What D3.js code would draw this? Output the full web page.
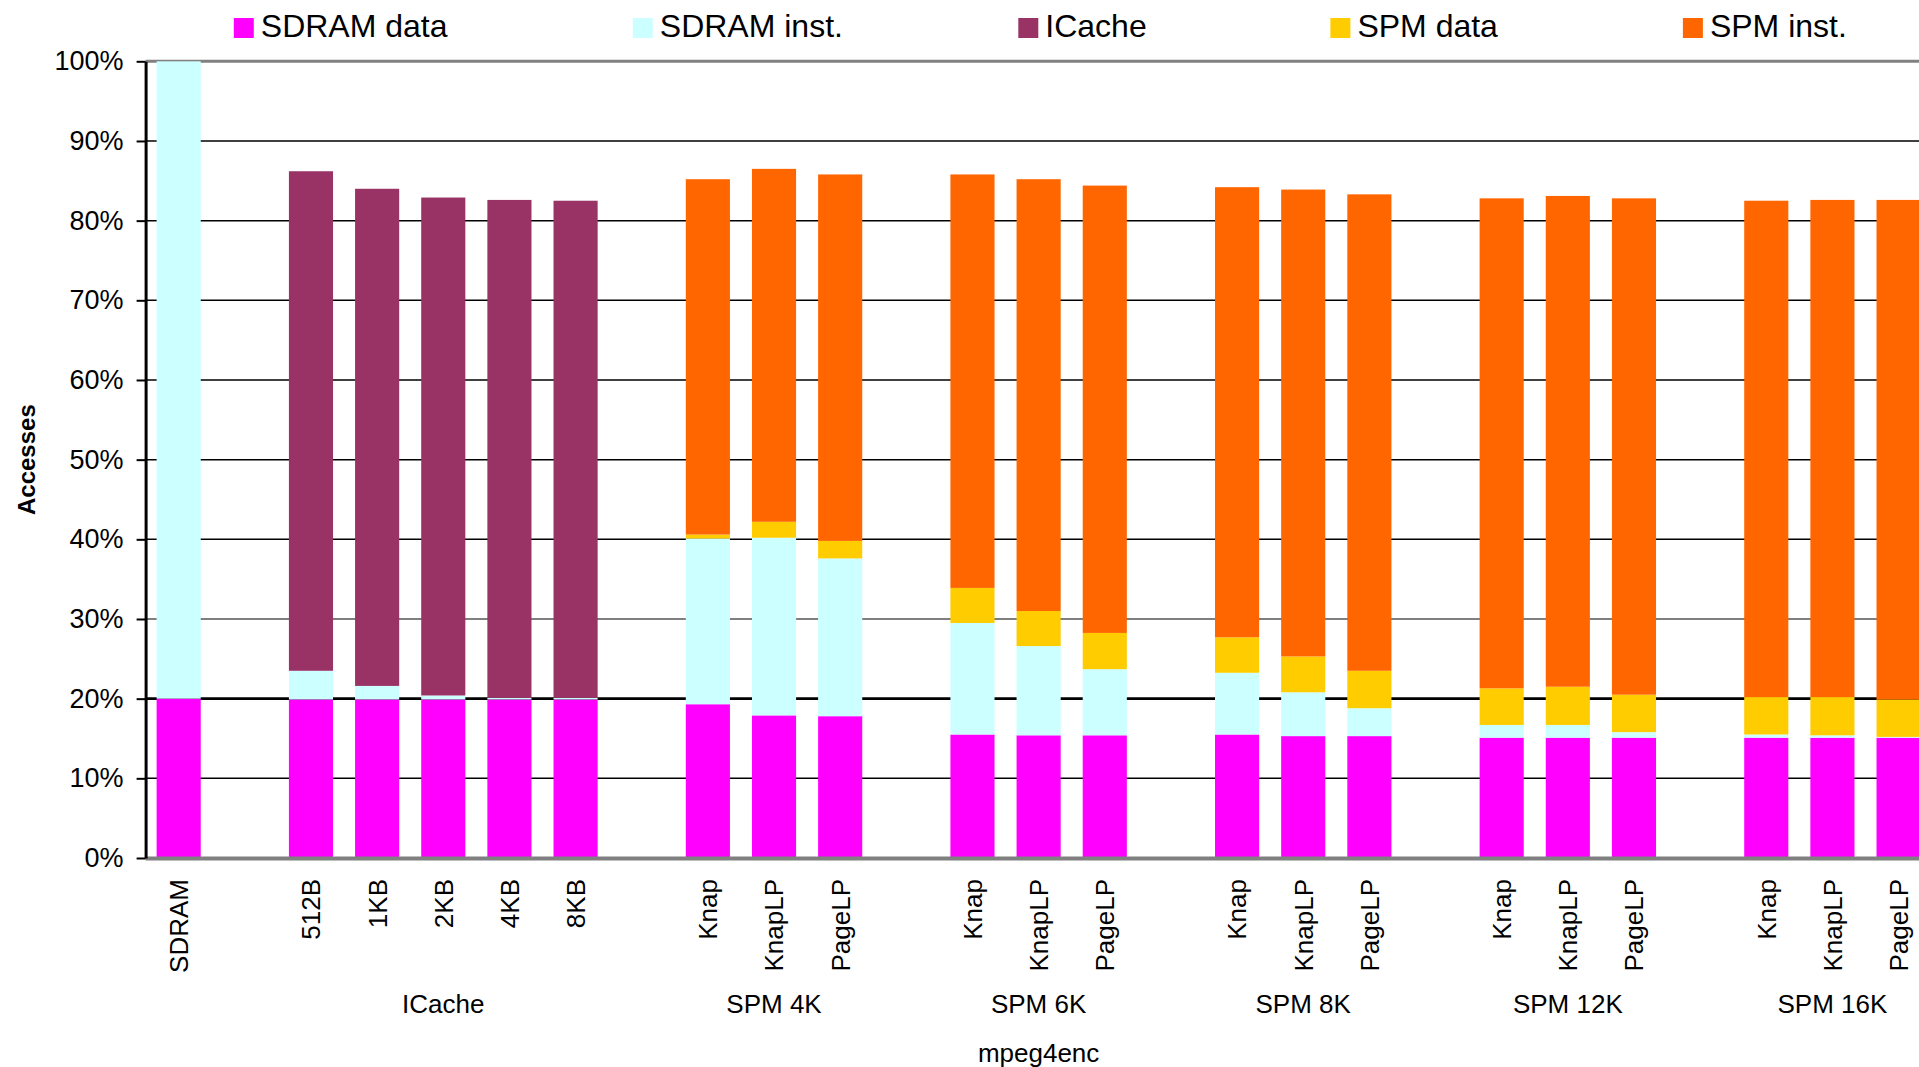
<!DOCTYPE html>
<html><head><meta charset="utf-8">
<script src="https://cdn.jsdelivr.net/npm/d3@7"></script>
<style>html,body{margin:0;padding:0;background:#fff;overflow:hidden}</style>
</head><body><svg id="chart" width="1919" height="1067"></svg>
<script>
// ---------- data ----------
const seriesNames = ["SDRAM data", "SDRAM inst.", "ICache", "SPM data", "SPM inst."];
const seriesColors = ["#FF00FF", "#CCFFFF", "#993366", "#FFCC00", "#FF6600"];
const groupNames = ["", "ICache", "SPM 4K", "SPM 6K", "SPM 8K", "SPM 12K", "SPM 16K"];
const categories = ["SDRAM", "512B", "1KB", "2KB", "4KB", "8KB",
  "Knap", "KnapLP", "PageLP", "Knap", "KnapLP", "PageLP", "Knap", "KnapLP", "PageLP",
  "Knap", "KnapLP", "PageLP", "Knap", "KnapLP", "PageLP"];
const categoryGroup = [0, 1, 1, 1, 1, 1, 2, 2, 2, 3, 3, 3, 4, 4, 4, 5, 5, 5, 6, 6, 6];
const sdramData = [20.0, 19.9, 19.9, 19.9, 19.9, 19.9, 19.3, 17.9, 17.8, 15.5, 15.4, 15.4, 15.5, 15.3, 15.3, 15.1, 15.1, 15.1, 15.1, 15.1, 15.1];
const sdramInst = [80.0, 3.6, 1.7, 0.5, 0.2, 0.2, 20.8, 22.3, 19.8, 14.0, 11.2, 8.3, 7.75, 5.5, 3.5, 1.6, 1.6, 0.7, 0.4, 0.3, 0.1];
const icache    = [0, 62.7, 62.4, 62.5, 62.5, 62.4, 0, 0, 0, 0, 0, 0, 0, 0, 0, 0, 0, 0, 0, 0, 0];
const spmData   = [0, 0, 0, 0, 0, 0, 0.5, 2.0, 2.2, 4.4, 4.4, 4.55, 4.45, 4.5, 4.7, 4.6, 4.8, 4.7, 4.7, 4.8, 4.7];
const spmInst   = [0, 0, 0, 0, 0, 0, 44.6, 44.3, 46.0, 51.9, 54.2, 56.15, 56.5, 58.6, 59.8, 61.5, 61.6, 62.3, 62.3, 62.4, 62.7];
const yTicks = [0, 10, 20, 30, 40, 50, 60, 70, 80, 90, 100];
const xTitle = "mpeg4enc";
const yTitle = "Accesses";

// ---------- layout ----------
const W = 1919, H = 1067;
const plotLeft = 145.6, plotTop = 61.3, plotBottom = 858;
const slotStep = 66.15;
const FONT = "'Liberation Sans', Arial, sans-serif";

const svg = d3.select("#chart");

// build slot domain with one empty slot between groups
const rows = categories.map((c, i) => ({
  key: categoryGroup[i] + "|" + c, label: c, group: categoryGroup[i],
  "SDRAM data": sdramData[i], "SDRAM inst.": sdramInst[i], "ICache": icache[i],
  "SPM data": spmData[i], "SPM inst.": spmInst[i]
}));
const slots = [];
rows.forEach((r, i) => {
  if (i > 0 && r.group !== rows[i - 1].group) slots.push("gap" + i);
  slots.push(r.key);
});

const x = d3.scaleBand().domain(slots)
  .range([plotLeft, plotLeft + slots.length * slotStep])
  .paddingInner(0.333).paddingOuter(0.1665);
const y = d3.scaleLinear().domain([0, 100]).range([plotBottom, plotTop]);
const color = d3.scaleOrdinal().domain(seriesNames).range(seriesColors);
const plotRight = plotLeft + slots.length * slotStep;

// gridlines
svg.append("g").selectAll("line").data(yTicks.filter(t => t > 0 && t < 100)).join("line")
  .attr("x1", plotLeft).attr("x2", W)
  .attr("y1", d => y(d)).attr("y2", d => y(d))
  .attr("stroke", d => d === 30 ? "#555" : "#000")
  .attr("stroke-width", d => d === 20 ? 2.6 : 1.5);
// top border
svg.append("line").attr("x1", plotLeft).attr("x2", W).attr("y1", y(100)).attr("y2", y(100))
  .attr("stroke", "#808080").attr("stroke-width", 3);

// stacked bars
const stacked = d3.stack().keys(seriesNames)(rows);
svg.append("g").selectAll("g").data(stacked).join("g")
  .attr("fill", d => color(d.key))
  .selectAll("rect").data(d => d.filter(p => p[1] - p[0] > 0)).join("rect")
  .attr("x", d => x(d.data.key))
  .attr("width", x.bandwidth())
  .attr("y", d => y(d[1]))
  .attr("height", d => y(d[0]) - y(d[1]));

// x axis line
svg.append("line").attr("x1", plotLeft).attr("x2", W).attr("y1", plotBottom + 0.5).attr("y2", plotBottom + 0.5)
  .attr("stroke", "#808080").attr("stroke-width", 4);

// x tick labels (rotated)
const labelOf = new Map(rows.map(r => [r.key, r.label]));
const xAxis = svg.append("g").attr("transform", `translate(0,${plotBottom})`)
  .call(d3.axisBottom(x).tickValues(rows.map(r => r.key)).tickFormat(k => labelOf.get(k)).tickSize(0));
xAxis.select(".domain").remove();
xAxis.selectAll("text")
  .attr("transform", "rotate(-90)")
  .attr("x", -21).attr("y", 0).attr("dy", "0.36em")
  .style("text-anchor", "end")
  .style("font-family", FONT).style("font-size", "26px").attr("fill", "#000");

// group labels
const groupCenters = groupNames.map((g, gi) => {
  const keys = rows.filter(r => r.group === gi).map(r => r.key);
  const a = x(keys[0]), b = x(keys[keys.length - 1]) + x.bandwidth();
  return { name: g, cx: (a + b) / 2 };
}).filter(d => d.name);
svg.append("g").selectAll("text").data(groupCenters).join("text")
  .attr("x", d => d.cx).attr("y", 1013)
  .attr("text-anchor", "middle")
  .style("font-family", FONT).style("font-size", "26px")
  .text(d => d.name);

// x title
svg.append("text").attr("x", (plotLeft + plotRight) / 2).attr("y", 1062)
  .attr("text-anchor", "middle")
  .style("font-family", FONT).style("font-size", "26px")
  .text(xTitle);

// y axis
const yAxis = svg.append("g").attr("transform", `translate(${plotLeft},0)`)
  .call(d3.axisLeft(y).tickValues(yTicks).tickFormat(d => d + "%").tickSize(9).tickSizeOuter(0));
yAxis.select(".domain").attr("stroke", "#000").attr("stroke-width", 3);
yAxis.selectAll(".tick line").attr("stroke", "#000").attr("stroke-width", 2);
yAxis.selectAll("text").attr("x", -22)
  .style("font-family", FONT).style("font-size", "27px").attr("fill", "#000");

// y title
svg.append("text")
  .attr("transform", `translate(35,${(plotTop + plotBottom) / 2}) rotate(-90)`)
  .attr("text-anchor", "middle")
  .style("font-family", FONT).style("font-size", "24px").style("font-weight", "bold")
  .text(yTitle);

// legend
const legendX = [233.8, 632.8, 1018.3, 1330.4, 1682.9];
const leg = svg.append("g").selectAll("g").data(seriesNames).join("g")
  .attr("transform", (d, i) => `translate(${legendX[i]},18)`);
leg.append("rect").attr("width", 20).attr("height", 20).attr("fill", d => color(d));
leg.append("text").attr("x", 27).attr("y", 19)
  .style("font-family", FONT).style("font-size", "32px")
  .text(d => d);
</script>
</body></html>
